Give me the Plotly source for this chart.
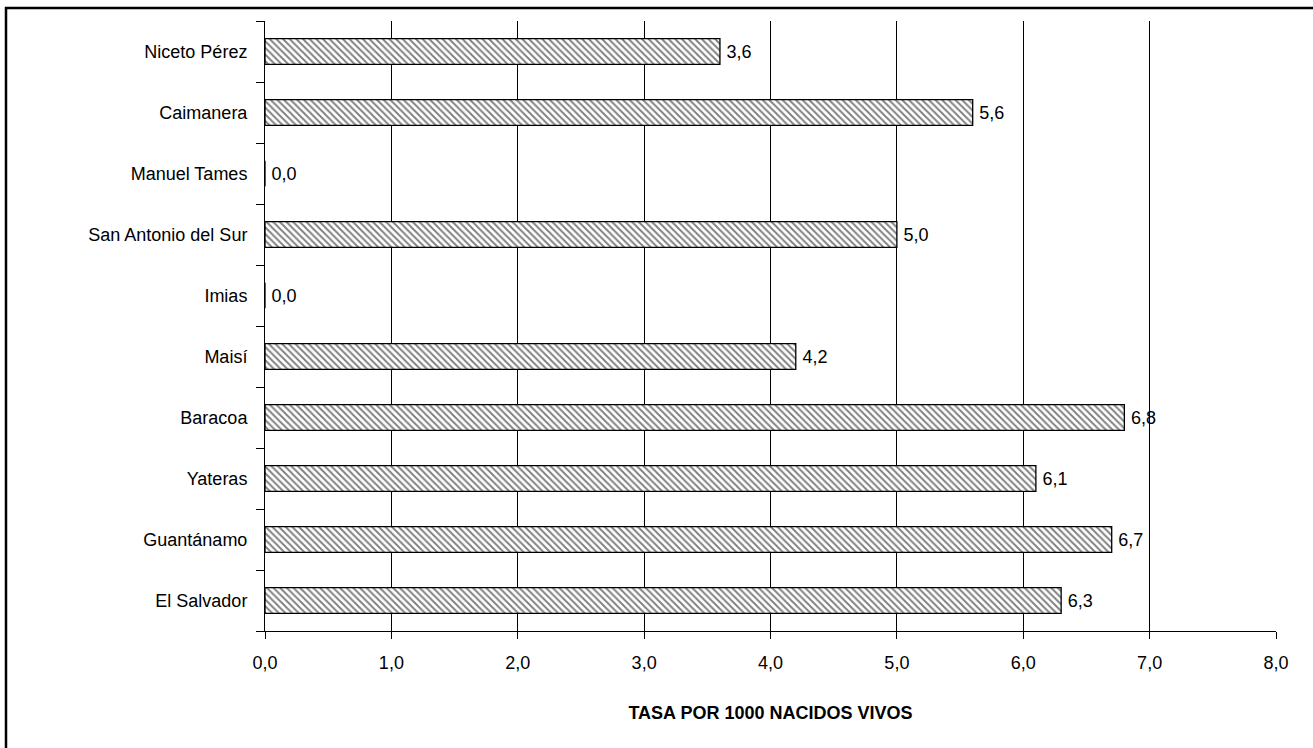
import plotly.graph_objects as go

categories = ["El Salvador", "Guantánamo", "Yateras", "Baracoa", "Maisí",
              "Imias", "San Antonio del Sur", "Manuel Tames", "Caimanera", "Niceto Pérez"]
values = [6.3, 6.7, 6.1, 6.8, 4.2, 0.0, 5.0, 0.0, 5.6, 3.6]
x_ticks = [0, 1, 2, 3, 4, 5, 6, 7, 8]
x_title = "TASA POR 1000 NACIDOS VIVOS"

FONT = "Liberation Sans, Arial, sans-serif"

fig = go.Figure(go.Bar(
    y=categories, x=values, orientation="h", width=0.42,
    marker=dict(color="white", line=dict(color="black", width=1.3),
                pattern=dict(shape="\\", fgcolor="black", bgcolor="white", size=4.7, solidity=0.4)),
    text=values, texttemplate="\u2009%{x:.1f}", textposition="outside",
    textfont=dict(family=FONT, size=18, color="black"), cliponaxis=False,
))

L, R, T, B = 265, 37, 21, 117
W, H = 1313, 748
pw, ph = W - L - R, H - T - B

def px_x(p):
    return (p - L) / pw

def px_y(p):
    return (H - B - p) / ph

frame = dict(color="black", width=2.5)
fig.update_layout(
    width=W, height=H, margin=dict(l=L, r=R, t=T, b=B),
    paper_bgcolor="white", plot_bgcolor="white", separators=", ",
    font=dict(family=FONT, size=18, color="black"), showlegend=False,
    xaxis=dict(range=[0, 8], tickvals=x_ticks, tickformat=".1f",
               showgrid=True, gridcolor="black", gridwidth=1,
               showline=True, linecolor="black", linewidth=1,
               ticks="outside", ticklen=7, tickcolor="black",
               zeroline=False, ticklabelstandoff=8,
               title=dict(text="<b>" + x_title + "</b>", standoff=34,
                          font=dict(family=FONT, size=18, color="black"))),
    yaxis=dict(categoryorder="array", categoryarray=categories,
               showgrid=False, showline=True, linecolor="black", linewidth=1,
               ticks="outside", ticklen=8, tickcolor="black", tickson="boundaries",
               ticklabelstandoff=13, range=[-0.5, 9.5]),
    shapes=[
        dict(type="line", xref="paper", yref="paper",
             x0=px_x(5), x1=px_x(1320), y0=px_y(8), y1=px_y(8), line=frame, layer="above"),
        dict(type="line", xref="paper", yref="paper",
             x0=px_x(6), x1=px_x(6), y0=px_y(7), y1=px_y(760), line=frame, layer="above"),
    ],
)

fig.write_html("out.html", config={"displayModeBar": False},
               post_script="document.body.style.margin='0';document.body.style.overflow='hidden';")
